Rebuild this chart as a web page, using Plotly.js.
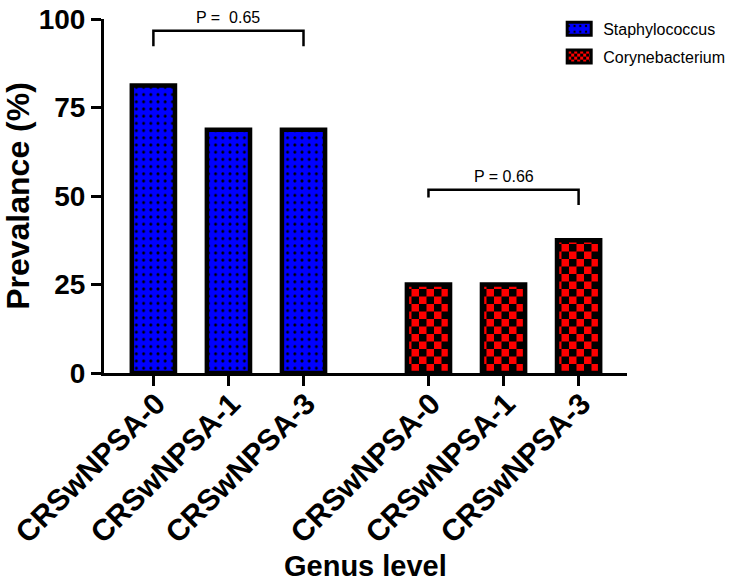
<!DOCTYPE html>
<html>
<head>
<meta charset="utf-8">
<script src="https://cdn.plot.ly/plotly-3.0.1.min.js"></script>
<style>
html,body{margin:0;padding:0;background:#fff;}
#chart{width:742px;height:588px;}
</style>
</head>
<body>
<div id="chart"></div>
<script>
// ---- data ----
const groupLabels = ['CRSwNPSA-0', 'CRSwNPSA-1', 'CRSwNPSA-3'];
const seriesNames = ['Staphylococcus', 'Corynebacterium'];
const staphValues = [81.25, 68.75, 68.75];
const coryneValues = [25, 25, 37.5];
const yTickValues = [0, 25, 50, 75, 100];
const pLabels = ['P =\u00a0 0.65', 'P = 0.66'];
const bracketTops = [96.7, 51.8];
const bracketLeftEnds = [92.3, 49.6];
const bracketRightEnds = [92.3, 47.5];
const xTitle = 'Genus level';
const yTitle = 'Prevalance (%)';

// ---- layout helpers ----
const FONT = 'Liberation Sans, Arial, Helvetica, sans-serif';
const groupGap = 0.665;
const staphX = groupLabels.map((_, i) => i);
const coryneX = groupLabels.map((_, i) => i + groupLabels.length + groupGap);
const allX = staphX.concat(coryneX);
const allLabels = groupLabels.concat(groupLabels);
const seriesX = [staphX, coryneX];

const data = [
  {
    type: 'bar', name: seriesNames[0], x: staphX, y: staphValues, width: 0.575,
    legendgroup: 'a',
    marker: {
      color: '#0000ff',
      line: {color: '#000', width: 4.5},
      pattern: {shape: '.', bgcolor: '#0000ff', fgcolor: '#000', size: 7.2, solidity: 0.13, fillmode: 'replace'}
    },
    hoverinfo: 'skip'
  },
  {
    type: 'bar', name: seriesNames[1], x: coryneX, y: coryneValues, width: 0.575,
    legendgroup: 'b',
    marker: {
      color: '#ff0000',
      line: {color: '#000', width: 4.5}
    },
    hoverinfo: 'skip'
  }
];

const shapes = [];
const annotations = [];
pLabels.forEach((lab, i) => {
  const xs = seriesX[i];
  const x0 = xs[0], x1 = xs[xs.length - 1];
  shapes.push({
    type: 'path', xref: 'x', yref: 'y',
    path: `M${x0},${bracketLeftEnds[i]} L${x0},${bracketTops[i]} L${x1},${bracketTops[i]} L${x1},${bracketRightEnds[i]}`,
    line: {color: '#000', width: 2.5}
  });
  annotations.push({
    xref: 'x', yref: 'y', x: (x0 + x1) / 2, y: bracketTops[i],
    text: lab, showarrow: false, yanchor: 'bottom', yshift: 3,
    font: {family: FONT, size: 16, color: '#000'}
  });
});
// x-axis title placed just below the rotated tick labels
annotations.push({
  xref: 'paper', yref: 'paper', x: 0.5, y: -0.5466, xanchor: 'center', yanchor: 'middle',
  text: '<b>' + xTitle + '</b>', showarrow: false,
  font: {family: FONT, size: 29, color: '#000'}
});

const layout = {
  width: 742, height: 588,
  margin: {l: 104, r: 98, t: 14, b: 214.5, pad: 0},
  paper_bgcolor: '#fff', plot_bgcolor: '#fff',
  barmode: 'overlay',
  showlegend: true,
  legend: {
    x: 0.878, y: 1.02, xanchor: 'left', yanchor: 'top',
    font: {family: FONT, size: 16, color: '#000'},
    bgcolor: 'rgba(0,0,0,0)', borderwidth: 0,
    traceorder: 'grouped', tracegroupgap: 4
  },
  xaxis: {
    range: [-0.658, 6.31],
    tickmode: 'array', tickvals: allX, ticktext: allLabels,
    tickangle: -45,
    showline: true, linewidth: 3, linecolor: '#000',
    ticks: 'outside', ticklen: 10, tickwidth: 2.5, tickcolor: '#000',
    ticklabelstandoff: -12, ticklabelshift: 3,
    tickfont: {family: FONT, size: 30, color: '#000', weight: 700},
    showgrid: false, zeroline: false, automargin: false, fixedrange: true
  },
  yaxis: {
    range: [0, 100.02],
    tickmode: 'array', tickvals: yTickValues,
    showline: true, linewidth: 3, linecolor: '#000',
    ticks: 'outside', ticklen: 10, tickwidth: 3, tickcolor: '#000',
    tickfont: {family: FONT, size: 28, color: '#000', weight: 700},
    showgrid: false, zeroline: false, automargin: false, fixedrange: true,
    title: {text: yTitle, font: {family: FONT, size: 32, color: '#000', weight: 700}, standoff: 18}
  },
  shapes: shapes,
  annotations: annotations
};

const gd = document.getElementById('chart');
Plotly.newPlot(gd, data, layout, {staticPlot: true, displayModeBar: false}).then(function () {
  const ns = 'http://www.w3.org/2000/svg';
  const defs = gd.querySelector('svg.main-svg defs');
  function makeChecker(id, s) {
    const p = document.createElementNS(ns, 'pattern');
    p.setAttribute('id', id);
    p.setAttribute('patternUnits', 'userSpaceOnUse');
    p.setAttribute('width', 2 * s);
    p.setAttribute('height', 2 * s);
    const rects = [[0, 0, 2 * s, 2 * s, '#ff0000'], [0, 0, s, s, '#000'], [s, s, s, s, '#000']];
    rects.forEach(r => {
      const e = document.createElementNS(ns, 'rect');
      e.setAttribute('x', r[0]); e.setAttribute('y', r[1]);
      e.setAttribute('width', r[2]); e.setAttribute('height', r[3]);
      e.setAttribute('fill', r[4]);
      p.appendChild(e);
    });
    defs.appendChild(p);
  }
  makeChecker('checkerBars', 7.5);
  makeChecker('checkerLegend', 3);
  const traces = gd.querySelectorAll('.barlayer .trace');
  if (traces[1]) traces[1].querySelectorAll('.point path').forEach(p => { p.style.fill = 'url(#checkerBars)'; });
  const legendItems = gd.querySelectorAll('.legend .traces');
  legendItems.forEach((it, i) => {
    it.querySelectorAll('.legendpoints path').forEach(p => {
      p.setAttribute('d', 'M8,6.5H-16V-6.5H8Z');
      p.style.strokeWidth = '3px';
      if (i === 1) p.style.fill = 'url(#checkerLegend)';
    });
  });
});
</script>
</body>
</html>
